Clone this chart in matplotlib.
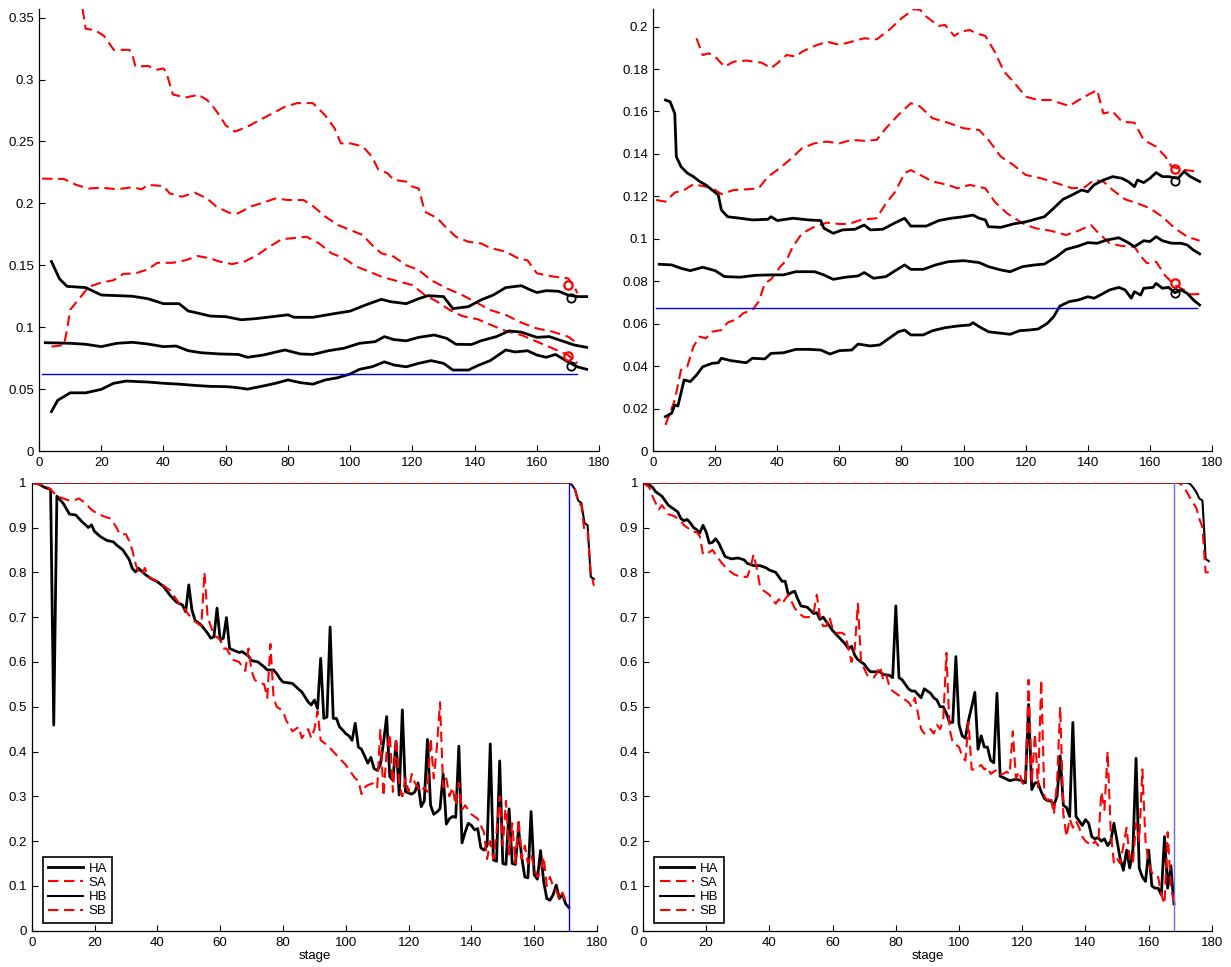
import matplotlib

matplotlib.use("Agg")
import matplotlib.pyplot as plt

plt.rcParams["font.family"] = ["Liberation Sans", "DejaVu Sans"]
plt.rcParams["font.size"] = 9.5

# ---- top left: three solid (H) and three dashed (S) bands ----
tl_h_hi_x = [4, 6.6, 9, 15, 20, 30, 35, 40, 45, 48, 50, 55, 60, 65, 70, 75, 80, 82, 88, 95, 100, 105,
             110, 113, 118, 122, 125, 130, 133, 138, 142, 146, 150, 155, 158, 160, 163, 167, 170, 173, 176]
tl_h_hi_y = [0.153, 0.139, 0.133, 0.132, 0.126, 0.125, 0.123, 0.119, 0.119, 0.113, 0.112, 0.109, 0.1085,
             0.106, 0.107, 0.1085, 0.110, 0.108, 0.108, 0.111, 0.113, 0.118, 0.1225, 0.1206, 0.119, 0.123,
             0.1255, 0.1247, 0.115, 0.1166, 0.122, 0.126, 0.132, 0.1335, 0.130, 0.128, 0.1295, 0.129, 0.126,
             0.1247, 0.1247]
tl_h_mid_x = [2, 10, 15, 20, 25, 30, 35, 40, 44, 48, 52, 58, 64, 67, 72, 79, 84, 88, 93, 98, 103, 108, 111,
              114, 118, 122, 127, 131, 134, 139, 142, 147, 151, 155, 160, 164, 168, 172, 176]
tl_h_mid_y = [0.0875, 0.087, 0.0862, 0.0843, 0.087, 0.0878, 0.0864, 0.0843, 0.0848, 0.081, 0.0794, 0.0784,
              0.078, 0.0757, 0.0775, 0.0816, 0.0784, 0.078, 0.081, 0.083, 0.087, 0.0883, 0.0924, 0.090, 0.089,
              0.0918, 0.0937, 0.091, 0.0862, 0.086, 0.089, 0.0924, 0.097, 0.096, 0.0918, 0.0924, 0.089, 0.0856,
              0.0837]
tl_h_lo_x = [4, 6, 8, 10, 15, 20, 24, 28, 35, 40, 45, 50, 55, 60, 63, 67, 72, 76, 80, 84, 88, 92, 96, 100,
             103, 107, 111, 114, 118, 122, 126, 130, 133, 138, 141, 145, 150, 153, 157, 160, 163, 166, 170,
             173, 176]
tl_h_lo_y = [0.0318, 0.041, 0.0439, 0.047, 0.047, 0.0498, 0.0547, 0.0565, 0.0557, 0.0547, 0.054, 0.053,
             0.0522, 0.052, 0.0514, 0.050, 0.0525, 0.0547, 0.0574, 0.0552, 0.054, 0.0574, 0.0592, 0.0622,
             0.066, 0.068, 0.072, 0.0695, 0.068, 0.0708, 0.073, 0.0708, 0.0654, 0.0654, 0.069, 0.073, 0.0816,
             0.080, 0.081, 0.0775, 0.0757, 0.078, 0.072, 0.068, 0.066]
tl_s_hi_x = [14, 15, 18, 21, 24, 29, 30, 31, 35, 38, 40, 41, 43, 47, 50, 51, 54, 56, 58, 60, 63, 67, 71, 75,
             79, 83, 88, 92, 95, 97, 100, 104, 107, 109, 112, 114, 118, 120, 122, 124, 128, 131, 134, 138,
             142, 145, 150, 154, 157, 160, 165, 170, 172, 173]
tl_s_hi_y = [0.357, 0.341, 0.340, 0.335, 0.324, 0.324, 0.32, 0.3105, 0.311, 0.308, 0.309, 0.305, 0.288,
             0.2855, 0.287, 0.288, 0.2835, 0.278, 0.271, 0.263, 0.258, 0.262, 0.2674, 0.2727, 0.278, 0.281,
             0.281, 0.271, 0.2606, 0.2485, 0.2485, 0.246, 0.2377, 0.2275, 0.2243, 0.219, 0.2176, 0.2135,
             0.212, 0.1933, 0.188, 0.18, 0.173, 0.169, 0.1677, 0.164, 0.161, 0.1556, 0.154, 0.1435, 0.141,
             0.1395, 0.133, 0.1274]
tl_s_mid_x = [1, 8, 12, 16, 20, 25, 30, 33, 35, 40, 42, 46, 50, 54, 57, 61, 64, 68, 72, 76, 80, 85, 88, 92,
              96, 100, 104, 107, 110, 114, 118, 122, 126, 131, 136, 141, 145, 150, 155, 160, 165, 170, 173]
tl_s_mid_y = [0.220, 0.2197, 0.2149, 0.212, 0.2127, 0.2114, 0.213, 0.2114, 0.2149, 0.214, 0.208, 0.2054,
              0.2087, 0.204, 0.1974, 0.1925, 0.192, 0.1974, 0.2006, 0.204, 0.2027, 0.2027, 0.1979, 0.1893,
              0.1826, 0.1785, 0.1745, 0.1664, 0.1597, 0.157, 0.150, 0.1462, 0.138, 0.1314, 0.126, 0.1193,
              0.1139, 0.1099, 0.1037, 0.099, 0.0964, 0.0924, 0.087]
tl_s_lo_x = [4, 8, 9, 10, 13, 16, 20, 24, 27, 31, 35, 38, 43, 47, 51, 55, 58, 62, 66, 70, 74, 78, 83, 86,
             90, 94, 98, 102, 107, 110, 115, 120, 124, 128, 132, 136, 141, 146, 150, 155, 160, 165, 170, 173]
tl_s_lo_y = [0.0843, 0.0856, 0.0977, 0.114, 0.1233, 0.1327, 0.136, 0.138, 0.143, 0.1435, 0.1467, 0.152,
             0.152, 0.154, 0.1575, 0.1556, 0.153, 0.151, 0.153, 0.158, 0.165, 0.171, 0.1723, 0.173, 0.1677,
             0.1597, 0.1556, 0.149, 0.144, 0.1408, 0.1373, 0.134, 0.126, 0.1206, 0.1139, 0.109, 0.1064,
             0.101, 0.097, 0.0937, 0.0883, 0.083, 0.0775, 0.0708]
tl_level = 0.0622
tl_level_span = [1, 173]
tl_mark_s_x = [170, 170]
tl_mark_s_y = [0.134, 0.0767]
tl_mark_h_x = [171, 171]
tl_mark_h_y = [0.1239, 0.069]

# ---- top right ----
tr_h_hi_x = [4, 5.5, 7, 7.5, 9, 11, 13, 15, 17, 19, 21, 22, 24, 28, 32, 37, 38, 40, 45, 50, 54, 55, 58,
             61, 65, 68, 70, 74, 78, 81, 83, 88, 92, 96, 100, 103, 105, 107, 108, 112, 116, 120, 123, 126,
             129, 132, 135, 138, 140, 142, 145, 148, 151, 153, 155, 156, 158, 160, 162, 164, 166, 169, 171,
             173, 176]
tr_h_hi_y = [0.1654, 0.1646, 0.159, 0.1387, 0.134, 0.131, 0.1293, 0.127, 0.1254, 0.123, 0.1207, 0.1136,
             0.1104, 0.1097, 0.1089, 0.1092, 0.1104, 0.1086, 0.1097, 0.1089, 0.1086, 0.105, 0.1026, 0.1042,
             0.1045, 0.1065, 0.1042, 0.1045, 0.1076, 0.1097, 0.106, 0.106, 0.1086, 0.1097, 0.1104, 0.1112,
             0.1097, 0.1089, 0.1057, 0.1054, 0.107, 0.108, 0.1092, 0.1104, 0.1144, 0.1186, 0.1207, 0.123,
             0.1222, 0.1254, 0.1277, 0.1293, 0.1285, 0.127, 0.1246, 0.1277, 0.1265, 0.1285, 0.1312, 0.1293,
             0.1293, 0.1285, 0.1317, 0.1293, 0.127]
tr_h_mid_x = [2, 6, 9, 12, 16, 20, 23, 28, 33, 38, 42, 46, 52, 55, 58, 62, 66, 68, 71, 75, 78, 81, 83, 87,
              91, 95, 100, 105, 108, 112, 115, 119, 123, 126, 130, 133, 137, 140, 143, 146, 150, 153, 155,
              158, 160, 162, 164, 167, 170, 172, 174, 176]
tr_h_mid_y = [0.088, 0.0877, 0.0861, 0.085, 0.0866, 0.085, 0.0822, 0.0819, 0.0828, 0.083, 0.083, 0.0845,
              0.0845, 0.083, 0.0809, 0.0819, 0.0825, 0.0841, 0.0814, 0.0822, 0.085, 0.0877, 0.0856, 0.0856,
              0.0877, 0.0892, 0.0897, 0.0888, 0.0869, 0.0853, 0.0845, 0.0869, 0.0877, 0.0881, 0.0916, 0.095,
              0.0966, 0.0982, 0.0979, 0.0994, 0.1005, 0.0982, 0.0963, 0.0991, 0.0987, 0.101, 0.0991, 0.0979,
              0.0979, 0.0971, 0.0947, 0.0929]
tr_h_lo_x = [4, 6, 7, 8, 10, 12, 14, 16, 19, 21, 22, 25, 30, 32, 36, 38, 42, 46, 50, 54, 57, 60, 64, 66,
             70, 73, 76, 79, 81, 83, 87, 90, 94, 98, 102, 103, 105, 108, 112, 115, 118, 121, 124, 127, 129,
             131, 134, 137, 140, 142, 144, 147, 150, 152, 154, 155, 157, 158, 161, 162, 164, 166, 168, 170,
             172, 174, 176]
tr_h_lo_y = [0.0162, 0.0178, 0.0217, 0.0212, 0.0335, 0.0327, 0.0358, 0.0397, 0.0413, 0.0416, 0.0437,
             0.0426, 0.0416, 0.0437, 0.0434, 0.046, 0.0463, 0.0479, 0.0479, 0.0476, 0.0457, 0.0473, 0.0476,
             0.0504, 0.0495, 0.05, 0.0531, 0.0562, 0.057, 0.0547, 0.0547, 0.0567, 0.0581, 0.0589, 0.0594,
             0.0605, 0.0586, 0.0562, 0.0555, 0.055, 0.0567, 0.057, 0.0575, 0.0602, 0.0633, 0.0683, 0.0704,
             0.0712, 0.0727, 0.072, 0.0735, 0.0759, 0.0771, 0.0759, 0.072, 0.0751, 0.0735, 0.0767, 0.0771,
             0.079, 0.0767, 0.0771, 0.0746, 0.0759, 0.0743, 0.0712, 0.0688]
tr_s_hi_x = [14, 16, 18, 20, 23, 26, 30, 35, 38, 40, 43, 46, 48, 52, 56, 60, 64, 68, 72, 76, 80, 84, 86, 88,
             92, 94, 97, 99, 102, 104, 107, 110, 113, 116, 120, 124, 128, 134, 138, 143, 145, 148, 151, 155,
             158, 162, 165, 167, 171, 176]
tr_s_hi_y = [0.1945, 0.1866, 0.1874, 0.1859, 0.1811, 0.1835, 0.184, 0.183, 0.1804, 0.1827, 0.1866, 0.1859,
             0.1882, 0.1909, 0.1929, 0.1914, 0.1929, 0.1945, 0.194, 0.1984, 0.2039, 0.2082, 0.2079, 0.2047,
             0.2003, 0.2008, 0.1956, 0.1976, 0.1984, 0.1969, 0.1956, 0.1882, 0.1788, 0.1741, 0.167, 0.1654,
             0.1654, 0.1626, 0.1662, 0.1701, 0.1591, 0.160, 0.1552, 0.1547, 0.1466, 0.1434, 0.1387, 0.134,
             0.1324, 0.1317]
tr_s_mid_x = [1, 4, 7, 10, 13, 17, 20, 22, 26, 30, 34, 37, 40, 44, 48, 52, 56, 60, 64, 68, 72, 75, 79, 83,
              86, 90, 95, 100, 105, 108, 112, 116, 120, 125, 130, 135, 139, 142, 145, 148, 152, 156, 160,
              164, 168, 172, 176]
tr_s_mid_y = [0.1183, 0.1175, 0.1218, 0.123, 0.1257, 0.1246, 0.123, 0.1211, 0.123, 0.1233, 0.1238, 0.1293,
              0.1324, 0.1372, 0.1427, 0.145, 0.1458, 0.145, 0.1466, 0.1462, 0.1466, 0.1521, 0.1584, 0.1639,
              0.1623, 0.1568, 0.1547, 0.1521, 0.1513, 0.1466, 0.1387, 0.1348, 0.1301, 0.1285, 0.1262, 0.1238,
              0.1243, 0.1277, 0.127, 0.123, 0.1186, 0.1167, 0.1144, 0.1104, 0.105, 0.101, 0.0991]
tr_s_lo_x = [4, 7, 9, 11, 13, 15, 17, 19, 22, 24, 27, 29, 32, 34, 36, 38, 41, 43, 45, 48, 52, 56, 60, 63,
             67, 72, 75, 78, 81, 83, 86, 90, 95, 98, 102, 107, 110, 114, 119, 123, 128, 133, 137, 141, 143,
             147, 151, 155, 157, 159, 162, 165, 168, 171, 173, 176]
tr_s_lo_y = [0.0123, 0.024, 0.0382, 0.0397, 0.0492, 0.0539, 0.0531, 0.0562, 0.057, 0.0605, 0.0621, 0.0649,
             0.0665, 0.0704, 0.079, 0.0809, 0.0869, 0.09, 0.0963, 0.1026, 0.1057, 0.1076, 0.107, 0.107,
             0.1089, 0.1097, 0.1167, 0.1222, 0.1309, 0.1324, 0.1301, 0.127, 0.1254, 0.1238, 0.1254, 0.1238,
             0.1175, 0.112, 0.1073, 0.105, 0.1038, 0.1018, 0.1038, 0.1065, 0.1034, 0.0979, 0.0966, 0.0963,
             0.0919, 0.0885, 0.0892, 0.0825, 0.0782, 0.0759, 0.0738, 0.074]
tr_level = 0.0672
tr_level_span = [1, 175]
tr_mark_s_x = [168, 168]
tr_mark_s_y = [0.1328, 0.079]
tr_mark_h_x = [168, 168]
tr_mark_h_y = [0.1273, 0.0743]

# ---- bottom left ----
bl_ha_x = [0, 2, 4, 6, 7, 8, 10, 12, 14, 16, 18, 19, 20, 22, 24, 26, 27, 29, 31, 32, 33, 34, 36, 38, 40,
           42, 44, 46, 48, 49, 50, 51, 52, 54, 56, 57, 58, 59, 60, 61, 62, 63, 64, 66, 67, 69, 70, 72, 74,
           75, 77, 78, 79, 80, 83, 85, 86, 88, 89, 90, 91, 92, 93, 94, 95, 96, 97, 98, 99, 100, 101, 102,
           103, 104, 105, 106, 107, 108, 109, 110, 111, 112, 113, 114, 115, 116, 117, 118, 119, 121, 122,
           123, 124, 125, 126, 127, 128, 129, 130, 131, 132, 133, 134, 135, 136, 137, 138, 139, 140, 141,
           142, 143, 144, 145, 146, 147, 148, 149, 150, 151, 152, 153, 154, 155, 156, 157, 158, 159, 160,
           161, 162, 163, 164, 165, 166, 167, 168, 169, 170, 171]
bl_ha_y = [1.0, 0.998, 0.99, 0.985, 0.459, 0.970, 0.954, 0.930, 0.928, 0.913, 0.900, 0.906, 0.891, 0.879,
           0.871, 0.868, 0.861, 0.850, 0.829, 0.809, 0.801, 0.809, 0.796, 0.786, 0.779, 0.768, 0.749, 0.734,
           0.727, 0.712, 0.772, 0.716, 0.693, 0.682, 0.664, 0.653, 0.656, 0.72, 0.649, 0.653, 0.699, 0.63,
           0.627, 0.621, 0.623, 0.613, 0.603, 0.6, 0.589, 0.582, 0.582, 0.574, 0.563, 0.555, 0.552, 0.539,
           0.533, 0.511, 0.504, 0.515, 0.496, 0.608, 0.474, 0.477, 0.678, 0.474, 0.474, 0.455, 0.448, 0.44,
           0.435, 0.425, 0.463, 0.41, 0.405, 0.39, 0.374, 0.387, 0.362, 0.358, 0.37, 0.42, 0.478, 0.344,
           0.336, 0.422, 0.303, 0.493, 0.31, 0.305, 0.31, 0.33, 0.277, 0.29, 0.427, 0.28, 0.26, 0.265,
           0.272, 0.35, 0.238, 0.25, 0.255, 0.253, 0.412, 0.196, 0.22, 0.24, 0.235, 0.225, 0.228, 0.185,
           0.18, 0.19, 0.417, 0.158, 0.155, 0.379, 0.15, 0.148, 0.272, 0.15, 0.148, 0.228, 0.165, 0.12,
           0.118, 0.266, 0.125, 0.115, 0.179, 0.11, 0.072, 0.068, 0.08, 0.102, 0.072, 0.082, 0.06, 0.052]
bl_sa_x = [0, 3, 5, 6, 8, 10, 12, 14, 15, 17, 19, 21, 23, 25, 26, 27, 28, 30, 31, 32, 33, 34, 35, 36, 37,
           40, 42, 44, 45, 47, 48, 50, 52, 54, 55, 56, 57, 58, 60, 61, 62, 64, 66, 68, 69, 70, 71, 72, 74,
           75, 76, 77, 78, 80, 81, 83, 85, 86, 88, 89, 90, 91, 92, 94, 96, 98, 100, 102, 103, 104, 105, 106,
           107, 109, 110, 111, 112, 113, 114, 115, 116, 117, 118, 119, 120, 121, 122, 124, 125, 126, 127,
           128, 129, 130, 131, 132, 133, 134, 135, 136, 137, 138, 140, 142, 144, 145, 146, 147, 148, 149,
           150, 151, 152, 153, 154, 155, 156, 157, 158, 159, 160, 161, 162, 163, 164, 165, 166, 167, 168,
           169, 170, 171]
bl_sa_y = [1.0, 0.995, 0.99, 0.985, 0.97, 0.965, 0.96, 0.962, 0.965, 0.955, 0.94, 0.93, 0.925, 0.92, 0.91,
           0.9, 0.885, 0.885, 0.87, 0.85, 0.82, 0.8, 0.795, 0.81, 0.79, 0.78, 0.77, 0.76, 0.75, 0.73, 0.725,
           0.705, 0.69, 0.68, 0.8, 0.70, 0.68, 0.66, 0.65, 0.63, 0.63, 0.605, 0.6, 0.58, 0.63, 0.58, 0.56,
           0.555, 0.55, 0.52, 0.64, 0.52, 0.5, 0.49, 0.47, 0.445, 0.455, 0.43, 0.45, 0.43, 0.45, 0.49,
           0.425, 0.415, 0.4, 0.385, 0.37, 0.35, 0.34, 0.335, 0.305, 0.32, 0.325, 0.33, 0.32, 0.45, 0.3,
           0.4, 0.44, 0.31, 0.43, 0.33, 0.3, 0.34, 0.31, 0.35, 0.33, 0.31, 0.32, 0.31, 0.43, 0.34, 0.41,
           0.51, 0.32, 0.34, 0.3, 0.32, 0.28, 0.33, 0.27, 0.28, 0.26, 0.25, 0.22, 0.16, 0.2, 0.16, 0.22,
           0.3, 0.19, 0.29, 0.17, 0.24, 0.15, 0.25, 0.16, 0.19, 0.15, 0.17, 0.14, 0.12, 0.13, 0.165, 0.1,
           0.12, 0.1, 0.09, 0.07, 0.085, 0.065, 0.055]
bl_hb_x = [0, 171, 172, 173, 174, 175, 176, 177, 178, 179]
bl_hb_y = [1.0, 1.0, 0.995, 0.985, 0.96, 0.955, 0.91, 0.905, 0.79, 0.785]
bl_sb_x = [0, 171, 172, 173, 174, 175, 176, 177, 178, 179]
bl_sb_y = [1.0, 1.0, 0.995, 0.985, 0.955, 0.95, 0.89, 0.89, 0.80, 0.77]
bl_cut = 171

# ---- bottom right ----
br_ha_x = [0, 2, 3, 4, 5, 6, 7, 8, 9, 10, 11, 12, 13, 14, 15, 16, 17, 18, 19, 20, 21, 22, 23, 24, 25, 26,
           28, 30, 32, 33, 35, 37, 39, 40, 42, 44, 45, 46, 47, 48, 49, 50, 52, 54, 55, 56, 57, 58, 60, 62,
           64, 65, 66, 67, 68, 70, 71, 72, 75, 76, 78, 79, 80, 81, 82, 84, 85, 86, 88, 89, 91, 92, 93, 94,
           95, 96, 97, 98, 99, 100, 101, 102, 103, 104, 105, 106, 107, 108, 109, 110, 111, 112, 113, 114,
           116, 118, 120, 121, 122, 123, 124, 125, 126, 127, 128, 129, 130, 131, 132, 133, 134, 135, 136,
           137, 138, 139, 140, 141, 142, 143, 144, 145, 146, 147, 148, 149, 150, 151, 152, 153, 154, 155,
           156, 157, 158, 159, 160, 161, 162, 163, 164, 165, 166, 167, 168]
br_ha_y = [1.0, 0.995, 0.99, 0.98, 0.975, 0.97, 0.96, 0.95, 0.945, 0.94, 0.935, 0.92, 0.915, 0.918, 0.91,
           0.9, 0.895, 0.888, 0.905, 0.89, 0.865, 0.867, 0.875, 0.865, 0.85, 0.835, 0.83, 0.832, 0.828,
           0.82, 0.815, 0.815, 0.81, 0.805, 0.8, 0.78, 0.78, 0.75, 0.755, 0.758, 0.74, 0.725, 0.722, 0.708,
           0.71, 0.695, 0.7, 0.69, 0.67, 0.655, 0.64, 0.63, 0.635, 0.615, 0.605, 0.595, 0.585, 0.578, 0.578,
           0.572, 0.57, 0.565, 0.725, 0.565, 0.56, 0.54, 0.535, 0.535, 0.52, 0.54, 0.53, 0.52, 0.515, 0.5,
           0.5, 0.485, 0.465, 0.465, 0.612, 0.46, 0.435, 0.43, 0.47, 0.5, 0.532, 0.405, 0.435, 0.41, 0.41,
           0.38, 0.375, 0.53, 0.345, 0.342, 0.335, 0.338, 0.335, 0.33, 0.505, 0.315, 0.33, 0.33, 0.31,
           0.295, 0.29, 0.29, 0.28, 0.3, 0.39, 0.28, 0.275, 0.255, 0.465, 0.255, 0.245, 0.235, 0.248, 0.24,
           0.21, 0.205, 0.208, 0.2, 0.205, 0.19, 0.2, 0.24, 0.2, 0.16, 0.135, 0.18, 0.14, 0.18, 0.385, 0.14,
           0.12, 0.11, 0.18, 0.1, 0.095, 0.095, 0.08, 0.21, 0.095, 0.145, 0.06]
br_sa_x = [0, 2, 3, 5, 6, 8, 10, 12, 13, 14, 16, 17, 18, 19, 21, 22, 23, 25, 27, 29, 31, 33, 34, 35, 36,
           37, 38, 40, 42, 43, 44, 46, 48, 50, 51, 53, 54, 55, 56, 57, 58, 59, 60, 61, 63, 64, 66, 67, 68,
           69, 70, 71, 72, 73, 74, 75, 76, 77, 78, 79, 80, 82, 84, 85, 86, 87, 88, 89, 90, 91, 92, 93, 94,
           95, 96, 97, 98, 99, 100, 101, 102, 103, 104, 105, 106, 107, 108, 109, 110, 111, 112, 113, 114,
           115, 116, 117, 118, 119, 120, 121, 122, 123, 124, 125, 126, 127, 128, 129, 130, 131, 132, 133,
           134, 135, 136, 137, 138, 139, 140, 142, 143, 144, 145, 146, 147, 148, 149, 150, 151, 152, 153,
           154, 155, 156, 157, 158, 159, 160, 161, 162, 163, 164, 165, 166, 167, 168]
br_sa_y = [1.0, 0.99, 0.97, 0.94, 0.95, 0.93, 0.925, 0.915, 0.905, 0.9, 0.89, 0.89, 0.88, 0.84, 0.845,
           0.85, 0.84, 0.82, 0.805, 0.795, 0.79, 0.79, 0.81, 0.84, 0.81, 0.77, 0.76, 0.75, 0.73, 0.74, 0.73,
           0.75, 0.72, 0.705, 0.7, 0.7, 0.71, 0.75, 0.7, 0.68, 0.68, 0.7, 0.675, 0.665, 0.665, 0.66, 0.6,
           0.63, 0.73, 0.6, 0.585, 0.57, 0.565, 0.565, 0.575, 0.59, 0.56, 0.57, 0.545, 0.535, 0.53, 0.52,
           0.51, 0.5, 0.52, 0.485, 0.45, 0.44, 0.445, 0.45, 0.44, 0.46, 0.45, 0.47, 0.62, 0.45, 0.42, 0.415,
           0.41, 0.39, 0.38, 0.465, 0.36, 0.36, 0.365, 0.37, 0.36, 0.365, 0.35, 0.355, 0.36, 0.35, 0.35,
           0.355, 0.35, 0.445, 0.34, 0.355, 0.33, 0.325, 0.56, 0.33, 0.44, 0.32, 0.56, 0.3, 0.29, 0.3, 0.26,
           0.33, 0.5, 0.26, 0.21, 0.25, 0.23, 0.245, 0.23, 0.21, 0.2, 0.19, 0.2, 0.19, 0.31, 0.27, 0.4,
           0.22, 0.15, 0.16, 0.15, 0.19, 0.23, 0.16, 0.15, 0.24, 0.2, 0.36, 0.2, 0.15, 0.13, 0.12, 0.12,
           0.08, 0.06, 0.22, 0.1, 0.06]
br_hb_x = [0, 172, 173, 174, 175, 176, 177, 177.5, 178, 179]
br_hb_y = [1.0, 1.0, 0.998, 0.99, 0.98, 0.965, 0.96, 0.9, 0.83, 0.825]
br_sb_x = [0, 169, 170, 171, 172, 174, 175, 176, 177, 178, 179]
br_sb_y = [1.0, 1.0, 0.998, 0.99, 0.98, 0.955, 0.945, 0.92, 0.9, 0.8, 0.8]
br_cut = 168

x_ticks = list(range(0, 181, 20))
tl_ticks = [0, 0.05, 0.1, 0.15, 0.2, 0.25, 0.3, 0.35]
tr_ticks = [0, 0.02, 0.04, 0.06, 0.08, 0.1, 0.12, 0.14, 0.16, 0.18, 0.2]
b_ticks = [0, 0.1, 0.2, 0.3, 0.4, 0.5, 0.6, 0.7, 0.8, 0.9, 1]

DASH = (0, (5, 2.7))


def fmt(v):
    s = ("%.2f" % v).rstrip("0").rstrip(".")
    return s if s else "0"


def style_axes(ax, yticks, ylim):
    ax.set_xlim(0, 180)
    ax.set_ylim(*ylim)
    ax.set_xticks(x_ticks)
    ax.set_xticklabels([str(t) for t in x_ticks])
    ax.set_yticks(yticks)
    ax.set_yticklabels([fmt(t) for t in yticks])
    for side in ("top", "right"):
        ax.spines[side].set_visible(False)
    for side in ("left", "bottom"):
        ax.spines[side].set_linewidth(0.9)
    ax.tick_params(direction="in", length=4, width=0.8, labelsize=9.5)
    ax.tick_params(axis="x", pad=4.5)
    ax.tick_params(axis="y", pad=3.5)


def top_panel(ax, h_sets, s_sets, level, span, marks, yticks, ylim):
    for xs, ys in s_sets:
        ax.plot(xs, ys, color="red", lw=1.5, linestyle=DASH)
    for xs, ys in h_sets:
        ax.plot(xs, ys, color="black", lw=2)
    ax.plot(span, [level, level], color="blue", lw=1)
    (sx, sy), (hx, hy) = marks
    ax.plot(sx, sy, "o", mfc="none", mec="red", mew=1.6, ms=6)
    ax.plot(hx, hy, "o", mfc="none", mec="black", mew=1.3, ms=6)
    style_axes(ax, yticks, ylim)


def bottom_panel(ax, ha, sa, hb, sb, cut, cut_color):
    ax.plot(*ha, color="black", lw=2, label="HA")
    ax.plot(*sa, color="red", lw=1.5, linestyle=DASH, label="SA")
    ax.plot(*hb, color="black", lw=1.5, label="HB")
    ax.plot(*sb, color="red", lw=1.5, linestyle=DASH, label="SB")
    ax.plot([cut, cut], [0, 1], color=cut_color, lw=1)
    style_axes(ax, b_ticks, (0, 1))
    ax.set_xlabel("stage", fontsize=9.5, labelpad=1)
    leg = ax.legend(loc="lower left", bbox_to_anchor=(0.02, 0.018), borderaxespad=0,
                    fancybox=False, framealpha=1, edgecolor="black", fontsize=9.5,
                    handlelength=2.6, handletextpad=0.45, borderpad=0.4, labelspacing=0.15)
    leg.get_frame().set_linewidth(1.2)


fig = plt.figure(figsize=(12.31, 9.67), dpi=100)
ax_tl = fig.add_axes([0.0317, 0.5336, 0.4550, 0.4571])
ax_tr = fig.add_axes([0.5305, 0.5336, 0.4541, 0.4571])
ax_bl = fig.add_axes([0.0258, 0.0375, 0.4592, 0.4633])
ax_br = fig.add_axes([0.5223, 0.0375, 0.4622, 0.4633])

top_panel(ax_tl,
          [(tl_h_hi_x, tl_h_hi_y), (tl_h_mid_x, tl_h_mid_y), (tl_h_lo_x, tl_h_lo_y)],
          [(tl_s_hi_x, tl_s_hi_y), (tl_s_mid_x, tl_s_mid_y), (tl_s_lo_x, tl_s_lo_y)],
          tl_level, tl_level_span,
          [(tl_mark_s_x, tl_mark_s_y), (tl_mark_h_x, tl_mark_h_y)],
          tl_ticks, (0, 0.357))
top_panel(ax_tr,
          [(tr_h_hi_x, tr_h_hi_y), (tr_h_mid_x, tr_h_mid_y), (tr_h_lo_x, tr_h_lo_y)],
          [(tr_s_hi_x, tr_s_hi_y), (tr_s_mid_x, tr_s_mid_y), (tr_s_lo_x, tr_s_lo_y)],
          tr_level, tr_level_span,
          [(tr_mark_s_x, tr_mark_s_y), (tr_mark_h_x, tr_mark_h_y)],
          tr_ticks, (0, 0.2083))

bottom_panel(ax_bl, (bl_ha_x, bl_ha_y), (bl_sa_x, bl_sa_y), (bl_hb_x, bl_hb_y),
             (bl_sb_x, bl_sb_y), bl_cut, "blue")
bottom_panel(ax_br, (br_ha_x, br_ha_y), (br_sa_x, br_sa_y), (br_hb_x, br_hb_y),
             (br_sb_x, br_sb_y), br_cut, "#6a6aff")

fig.savefig("out.png", dpi=100)
